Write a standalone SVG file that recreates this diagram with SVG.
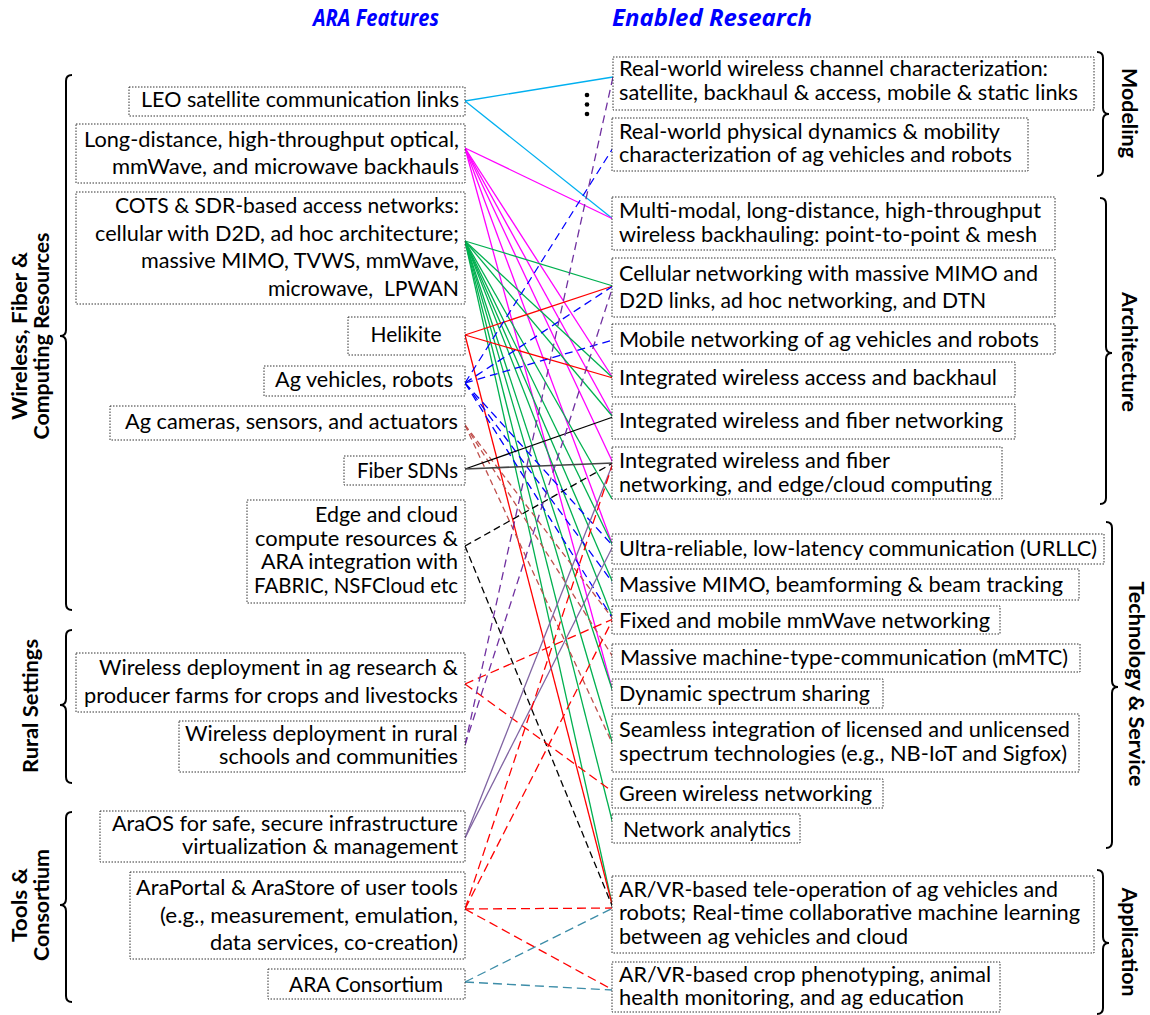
<svg xmlns="http://www.w3.org/2000/svg" width="1150" height="1015" viewBox="0 0 1150 1015">
<style>
.t{font-family:Lato,'Liberation Sans',sans-serif;font-size:21px;fill:#000}
.e{text-anchor:end}
.m{text-anchor:middle}
.box{fill:#fff;stroke:#333;stroke-width:1;stroke-dasharray:1.5 1.5}
.lbl{font-family:Lato,'Liberation Sans',sans-serif;font-size:21px;font-weight:bold;fill:#000;text-anchor:middle}
.title{font-family:'Open Sans','Liberation Sans',sans-serif;font-size:24px;font-weight:bold;font-style:italic;fill:#0000FF}
.br{fill:none;stroke:#000;stroke-width:2}
line{stroke-width:1.3;fill:none}
.cy{stroke:#00B0F0}
.mg{stroke:#FF00FF}
.gr{stroke:#00B050}
.rd{stroke:#FF0000}
.rdd{stroke:#FF0000;stroke-dasharray:9 5}
.bl{stroke:#0000FF;stroke-dasharray:8 5}
.bn{stroke:#C0504D;stroke-dasharray:6 4}
.bk{stroke:#000}
.bkd{stroke:#000;stroke-dasharray:7 4}
.pud{stroke:#7030A0;stroke-dasharray:8 5}
.pu{stroke:#8064A2}
.tl{stroke:#3D8DA8;stroke-dasharray:9 5}
</style>
<rect width="1150" height="1015" fill="#fff"/>
<text class="title" x="313" y="26" textLength="126" lengthAdjust="spacingAndGlyphs">ARA Features</text>
<text class="title" x="612" y="26" textLength="200" lengthAdjust="spacingAndGlyphs">Enabled Research</text>
<g id="connectors">
<line class="cy" x1="465" y1="101" x2="613" y2="77"/>
<line class="cy" x1="465" y1="101" x2="613" y2="219"/>
<line class="mg" x1="465" y1="148" x2="613" y2="219"/>
<line class="mg" x1="465" y1="148" x2="613" y2="378"/>
<line class="mg" x1="465" y1="148" x2="613" y2="417"/>
<line class="mg" x1="465" y1="148" x2="613" y2="463"/>
<line class="mg" x1="465" y1="148" x2="613" y2="546"/>
<line class="mg" x1="465" y1="148" x2="613" y2="692"/>
<line class="gr" x1="465" y1="241" x2="613" y2="286"/>
<line class="gr" x1="465" y1="241" x2="613" y2="378"/>
<line class="gr" x1="465" y1="241" x2="613" y2="417"/>
<line class="gr" x1="465" y1="241" x2="612" y2="499"/>
<line class="gr" x1="465" y1="241" x2="613" y2="546"/>
<line class="gr" x1="465" y1="241" x2="613" y2="583"/>
<line class="gr" x1="465" y1="241" x2="613" y2="619"/>
<line class="gr" x1="465" y1="241" x2="613" y2="692"/>
<line class="gr" x1="465" y1="241" x2="613" y2="745"/>
<line class="gr" x1="465" y1="241" x2="613" y2="824"/>
<line class="gr" x1="465" y1="241" x2="613" y2="908"/>
<line class="rd" x1="465" y1="335" x2="613" y2="286"/>
<line class="rd" x1="465" y1="335" x2="613" y2="378"/>
<line class="rd" x1="465" y1="335" x2="613" y2="908"/>
<line class="bl" x1="465" y1="383" x2="613" y2="148"/>
<line class="bl" x1="465" y1="383" x2="613" y2="286"/>
<line class="bl" x1="465" y1="383" x2="613" y2="340"/>
<line class="bl" x1="465" y1="383" x2="613" y2="546"/>
<line class="bl" x1="465" y1="383" x2="613" y2="583"/>
<line class="bl" x1="465" y1="383" x2="613" y2="619"/>
<line class="bn" x1="465" y1="425" x2="613" y2="619"/>
<line class="bn" x1="465" y1="425" x2="613" y2="657"/>
<line class="bn" x1="465" y1="425" x2="613" y2="745"/>
<line class="bk" x1="465" y1="469" x2="613" y2="417"/>
<line class="bk" x1="465" y1="469" x2="613" y2="463" style="stroke:#444;stroke-width:1.7"/>
<line class="bkd" x1="465" y1="546" x2="613" y2="463"/>
<line class="bkd" x1="465" y1="546" x2="613" y2="908"/>
<line class="rdd" x1="465" y1="684" x2="613" y2="619"/>
<line class="rdd" x1="465" y1="684" x2="613" y2="792"/>
<line class="pud" x1="465" y1="745" x2="613" y2="77"/>
<line class="pud" x1="465" y1="745" x2="613" y2="286"/>
<line class="pu" x1="465" y1="838" x2="613" y2="463"/>
<line class="pu" x1="465" y1="838" x2="613" y2="546"/>
<line class="rdd" x1="465" y1="909" x2="613" y2="463"/>
<line class="rdd" x1="465" y1="909" x2="613" y2="619"/>
<line class="rdd" x1="465" y1="909" x2="613" y2="908"/>
<line class="rdd" x1="465" y1="909" x2="613" y2="990"/>
<line class="tl" x1="465" y1="982" x2="613" y2="908"/>
<line class="tl" x1="465" y1="982" x2="613" y2="990"/>
</g>
<g id="dots" fill="#000"><circle cx="587" cy="95" r="2.3"/><circle cx="587" cy="104.5" r="2.3"/><circle cx="587" cy="114" r="2.3"/></g>
<g id="brackets">
<path class="br" d="M72,75 Q66,75 66,81 L66,330 Q66,336 60,336 Q66,336 66,342 L66,604 Q66,610 72,610"/>
<path class="br" d="M72,630 Q66,630 66,636 L66,699 Q66,705 60,705 Q66,705 66,711 L66,777 Q66,783 72,783"/>
<path class="br" d="M72,812 Q66,812 66,818 L66,899 Q66,905 60,905 Q66,905 66,911 L66,996 Q66,1002 72,1002"/>
<path class="br" d="M1097,52 Q1103,52 1103,58 L1103,108 Q1103,114 1109,114 Q1103,114 1103,120 L1103,170 Q1103,176 1097,176"/>
<path class="br" d="M1100,198 Q1106,198 1106,204 L1106,347 Q1106,353 1112,353 Q1106,353 1106,359 L1106,498 Q1106,504 1100,504"/>
<path class="br" d="M1106,522 Q1112,522 1112,528 L1112,681 Q1112,687 1118,687 Q1112,687 1112,693 L1112,842 Q1112,848 1106,848"/>
<path class="br" d="M1097,870 Q1103,870 1103,876 L1103,937 Q1103,943 1109,943 Q1103,943 1103,949 L1103,1008 Q1103,1014 1097,1014"/>
</g>
<g id="group-labels">
<g transform="translate(0,336) rotate(-90)"><text class="lbl" x="0" y="27" textLength="168" lengthAdjust="spacingAndGlyphs">Wireless, Fiber &amp;</text><text class="lbl" x="0" y="49" textLength="207" lengthAdjust="spacingAndGlyphs">Computing Resources</text></g>
<g transform="translate(0,706) rotate(-90)"><text class="lbl" x="0" y="38" textLength="134" lengthAdjust="spacingAndGlyphs">Rural Settings</text></g>
<g transform="translate(0,905) rotate(-90)"><text class="lbl" x="0" y="27" textLength="74" lengthAdjust="spacingAndGlyphs">Tools &amp;</text><text class="lbl" x="0" y="49" textLength="112" lengthAdjust="spacingAndGlyphs">Consortium</text></g>
<g transform="translate(1122,113) rotate(90)"><text class="lbl" x="0" y="0" textLength="90" lengthAdjust="spacingAndGlyphs">Modeling</text></g>
<g transform="translate(1122,352) rotate(90)"><text class="lbl" x="0" y="0" textLength="120" lengthAdjust="spacingAndGlyphs">Architecture</text></g>
<g transform="translate(1129,684) rotate(90)"><text class="lbl" x="0" y="0" textLength="205" lengthAdjust="spacingAndGlyphs">Technology &amp; Service</text></g>
<g transform="translate(1122,942) rotate(90)"><text class="lbl" x="0" y="0" textLength="109" lengthAdjust="spacingAndGlyphs">Application</text></g>
</g>
<g id="L1"><rect class="box" x="129" y="87" width="336" height="29"/><text class="t e" x="459" y="107" textLength="318" lengthAdjust="spacingAndGlyphs">LEO satellite communication links</text></g>
<g id="L2"><rect class="box" x="76" y="124" width="389" height="59"/><text class="t e" x="459" y="147" textLength="375" lengthAdjust="spacingAndGlyphs">Long-distance, high-throughput optical,</text><text class="t e" x="459" y="174" textLength="347" lengthAdjust="spacingAndGlyphs">mmWave, and microwave backhauls</text></g>
<g id="L3"><rect class="box" x="76" y="192" width="389" height="112"/><text class="t e" x="459" y="213" textLength="344" lengthAdjust="spacingAndGlyphs">COTS &amp; SDR-based access networks:</text><text class="t e" x="459" y="241" textLength="364" lengthAdjust="spacingAndGlyphs">cellular with D2D, ad hoc architecture;</text><text class="t e" x="459" y="268" textLength="318" lengthAdjust="spacingAndGlyphs">massive MIMO, TVWS, mmWave,</text><text class="t e" x="459" y="296" textLength="191" lengthAdjust="spacingAndGlyphs" xml:space="preserve">microwave,  LPWAN</text></g>
<g id="L4"><rect class="box" x="348" y="317" width="117" height="38"/><text class="t m" x="406" y="342" textLength="71" lengthAdjust="spacingAndGlyphs">Helikite</text></g>
<g id="L5"><rect class="box" x="264" y="366" width="201" height="30"/><text class="t e" x="453" y="387" textLength="178" lengthAdjust="spacingAndGlyphs">Ag vehicles, robots</text></g>
<g id="L6"><rect class="box" x="110" y="406" width="355" height="34"/><text class="t e" x="458" y="429" textLength="333" lengthAdjust="spacingAndGlyphs">Ag cameras, sensors, and actuators</text></g>
<g id="L7"><rect class="box" x="344" y="456" width="121" height="29"/><text class="t e" x="458" y="478" textLength="101" lengthAdjust="spacingAndGlyphs">Fiber SDNs</text></g>
<g id="L8"><rect class="box" x="247" y="500" width="218" height="103"/><text class="t e" x="458" y="522" textLength="143" lengthAdjust="spacingAndGlyphs">Edge and cloud</text><text class="t e" x="458" y="546" textLength="203" lengthAdjust="spacingAndGlyphs">compute resources &amp;</text><text class="t e" x="458" y="569" textLength="197" lengthAdjust="spacingAndGlyphs">ARA integration with</text><text class="t e" x="458" y="593" textLength="204" lengthAdjust="spacingAndGlyphs">FABRIC, NSFCloud etc</text></g>
<g id="L9"><rect class="box" x="76" y="653" width="389" height="59"/><text class="t e" x="458" y="675" textLength="359" lengthAdjust="spacingAndGlyphs">Wireless deployment in ag research &amp;</text><text class="t e" x="458" y="703" textLength="374" lengthAdjust="spacingAndGlyphs">producer farms for crops and livestocks</text></g>
<g id="L10"><rect class="box" x="179" y="721" width="286" height="51"/><text class="t e" x="458" y="741" textLength="273" lengthAdjust="spacingAndGlyphs">Wireless deployment in rural</text><text class="t e" x="458" y="764" textLength="239" lengthAdjust="spacingAndGlyphs">schools and communities</text></g>
<g id="L11"><rect class="box" x="100" y="811" width="365" height="51"/><text class="t e" x="458" y="831" textLength="346" lengthAdjust="spacingAndGlyphs">AraOS for safe, secure infrastructure</text><text class="t e" x="458" y="854" textLength="276" lengthAdjust="spacingAndGlyphs">virtualization &amp; management</text></g>
<g id="L12"><rect class="box" x="130" y="872" width="335" height="87"/><text class="t e" x="458" y="895" textLength="322" lengthAdjust="spacingAndGlyphs">AraPortal &amp; AraStore of user tools</text><text class="t e" x="458" y="923" textLength="298" lengthAdjust="spacingAndGlyphs">(e.g., measurement, emulation,</text><text class="t e" x="458" y="950" textLength="248" lengthAdjust="spacingAndGlyphs">data services, co-creation)</text></g>
<g id="L13"><rect class="box" x="268" y="969" width="197" height="30"/><text class="t m" x="366" y="992" textLength="154" lengthAdjust="spacingAndGlyphs">ARA Consortium</text></g>
<g id="R1"><rect class="box" x="613" y="57" width="481" height="53"/><text class="t" x="619" y="76" textLength="429" lengthAdjust="spacingAndGlyphs">Real-world wireless channel characterization:</text><text class="t" x="619" y="100" textLength="459" lengthAdjust="spacingAndGlyphs">satellite, backhaul &amp; access, mobile &amp; static links</text></g>
<g id="R2"><rect class="box" x="612" y="118" width="416" height="53"/><text class="t" x="619" y="139" textLength="381" lengthAdjust="spacingAndGlyphs">Real-world physical dynamics &amp; mobility</text><text class="t" x="619" y="162" textLength="393" lengthAdjust="spacingAndGlyphs">characterization of ag vehicles and robots</text></g>
<g id="R3"><rect class="box" x="612" y="197" width="443" height="53"/><text class="t" x="619" y="218" textLength="422" lengthAdjust="spacingAndGlyphs">Multi-modal, long-distance, high-throughput</text><text class="t" x="619" y="242" textLength="418" lengthAdjust="spacingAndGlyphs">wireless backhauling: point-to-point &amp; mesh</text></g>
<g id="R4"><rect class="box" x="612" y="258" width="443" height="59"/><text class="t" x="619" y="281" textLength="419" lengthAdjust="spacingAndGlyphs">Cellular networking with massive MIMO and</text><text class="t" x="619" y="308" textLength="367" lengthAdjust="spacingAndGlyphs">D2D links, ad hoc networking, and DTN</text></g>
<g id="R5"><rect class="box" x="612" y="324" width="443" height="30"/><text class="t" x="619" y="347" textLength="420" lengthAdjust="spacingAndGlyphs">Mobile networking of ag vehicles and robots</text></g>
<g id="R6"><rect class="box" x="612" y="362" width="403" height="35"/><text class="t" x="619" y="385" textLength="378" lengthAdjust="spacingAndGlyphs">Integrated wireless access and backhaul</text></g>
<g id="R7"><rect class="box" x="612" y="404" width="403" height="35"/><text class="t" x="619" y="428" textLength="384" lengthAdjust="spacingAndGlyphs">Integrated wireless and fiber networking</text></g>
<g id="R8"><rect class="box" x="612" y="447" width="390" height="52"/><text class="t" x="619" y="468" textLength="271" lengthAdjust="spacingAndGlyphs">Integrated wireless and fiber</text><text class="t" x="619" y="492" textLength="373" lengthAdjust="spacingAndGlyphs">networking, and edge/cloud computing</text></g>
<g id="R9"><rect class="box" x="612" y="534" width="492" height="30"/><text class="t" x="619" y="556" textLength="478" lengthAdjust="spacingAndGlyphs">Ultra-reliable, low-latency communication (URLLC)</text></g>
<g id="R10"><rect class="box" x="612" y="569" width="467" height="31"/><text class="t" x="619" y="592" textLength="444" lengthAdjust="spacingAndGlyphs">Massive MIMO, beamforming &amp; beam tracking</text></g>
<g id="R11"><rect class="box" x="612" y="606" width="388" height="28"/><text class="t" x="619" y="628" textLength="371" lengthAdjust="spacingAndGlyphs">Fixed and mobile mmWave networking</text></g>
<g id="R12"><rect class="box" x="612" y="644" width="468" height="28"/><text class="t" x="620" y="665" textLength="448" lengthAdjust="spacingAndGlyphs">Massive machine-type-communication (mMTC)</text></g>
<g id="R13"><rect class="box" x="612" y="679" width="271" height="29"/><text class="t" x="619" y="701" textLength="251" lengthAdjust="spacingAndGlyphs">Dynamic spectrum sharing</text></g>
<g id="R14"><rect class="box" x="612" y="714" width="467" height="58"/><text class="t" x="619" y="737" textLength="451" lengthAdjust="spacingAndGlyphs">Seamless integration of licensed and unlicensed</text><text class="t" x="619" y="761" textLength="448" lengthAdjust="spacingAndGlyphs">spectrum technologies (e.g., NB-IoT and Sigfox)</text></g>
<g id="R15"><rect class="box" x="612" y="779" width="271" height="29"/><text class="t" x="619" y="801" textLength="253" lengthAdjust="spacingAndGlyphs">Green wireless networking</text></g>
<g id="R16"><rect class="box" x="612" y="814" width="188" height="29"/><text class="t" x="623" y="837" textLength="168" lengthAdjust="spacingAndGlyphs">Network analytics</text></g>
<g id="R17"><rect class="box" x="612" y="876" width="482" height="77"/><text class="t" x="619" y="897" textLength="439" lengthAdjust="spacingAndGlyphs">AR/VR-based tele-operation of ag vehicles and</text><text class="t" x="619" y="920" textLength="461" lengthAdjust="spacingAndGlyphs">robots; Real-time collaborative machine learning</text><text class="t" x="619" y="944" textLength="289" lengthAdjust="spacingAndGlyphs">between ag vehicles and cloud</text></g>
<g id="R18"><rect class="box" x="612" y="962" width="388" height="50"/><text class="t" x="619" y="982" textLength="372" lengthAdjust="spacingAndGlyphs">AR/VR-based crop phenotyping, animal</text><text class="t" x="619" y="1005" textLength="345" lengthAdjust="spacingAndGlyphs">health monitoring, and ag education</text></g>
</svg>
